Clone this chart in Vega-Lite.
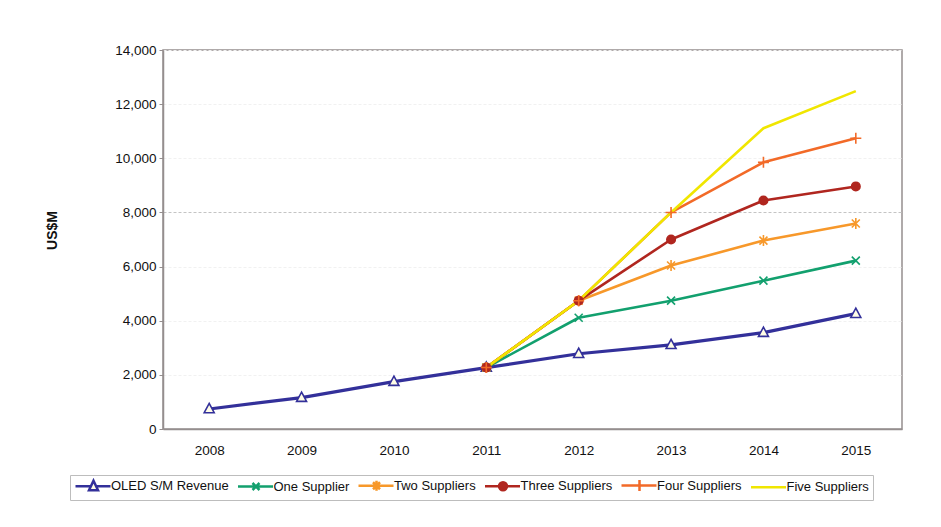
{
  "$schema": "https://vega.github.io/schema/vega-lite/v6.json",
  "width": 739,
  "height": 379,
  "autosize": "none",
  "padding": {"left": 163, "top": 50, "right": 39, "bottom": 98},
  "background": "white",
  "config": {
    "font": "Liberation Sans",
    "view": {"stroke": "#958e8e", "strokeWidth": 1.5},
    "axis": {
      "labelFont": "Liberation Sans",
      "labelFontSize": 13.5,
      "labelColor": "#111",
      "domainColor": "#958e8e",
      "domainWidth": 1.5,
      "tickColor": "#958e8e"
    }
  },
  "data": {
    "values": [
      {"year": "2008", "series": "OLED S/M Revenue", "value": 740},
      {"year": "2009", "series": "OLED S/M Revenue", "value": 1160},
      {"year": "2010", "series": "OLED S/M Revenue", "value": 1750},
      {"year": "2011", "series": "OLED S/M Revenue", "value": 2270},
      {"year": "2012", "series": "OLED S/M Revenue", "value": 2780},
      {"year": "2013", "series": "OLED S/M Revenue", "value": 3110},
      {"year": "2014", "series": "OLED S/M Revenue", "value": 3560},
      {"year": "2015", "series": "OLED S/M Revenue", "value": 4260},
      {"year": "2011", "series": "One Supplier", "value": 2270},
      {"year": "2012", "series": "One Supplier", "value": 4110},
      {"year": "2013", "series": "One Supplier", "value": 4740},
      {"year": "2014", "series": "One Supplier", "value": 5480},
      {"year": "2015", "series": "One Supplier", "value": 6220},
      {"year": "2011", "series": "Two Suppliers", "value": 2270},
      {"year": "2012", "series": "Two Suppliers", "value": 4740},
      {"year": "2013", "series": "Two Suppliers", "value": 6040},
      {"year": "2014", "series": "Two Suppliers", "value": 6960},
      {"year": "2015", "series": "Two Suppliers", "value": 7590},
      {"year": "2011", "series": "Three Suppliers", "value": 2270},
      {"year": "2012", "series": "Three Suppliers", "value": 4740},
      {"year": "2013", "series": "Three Suppliers", "value": 7000},
      {"year": "2014", "series": "Three Suppliers", "value": 8440},
      {"year": "2015", "series": "Three Suppliers", "value": 8960},
      {"year": "2011", "series": "Four Suppliers", "value": 2270},
      {"year": "2012", "series": "Four Suppliers", "value": 4740},
      {"year": "2013", "series": "Four Suppliers", "value": 8000},
      {"year": "2014", "series": "Four Suppliers", "value": 9850},
      {"year": "2015", "series": "Four Suppliers", "value": 10740},
      {"year": "2011", "series": "Five Suppliers", "value": 2270},
      {"year": "2012", "series": "Five Suppliers", "value": 4740},
      {"year": "2013", "series": "Five Suppliers", "value": 8000},
      {"year": "2014", "series": "Five Suppliers", "value": 11110},
      {"year": "2015", "series": "Five Suppliers", "value": 12480}
    ]
  },
  "encoding": {
    "x": {
      "field": "year",
      "type": "ordinal",
      "scale": {"type": "point", "padding": 0.5},
      "axis": {"title": null, "labelAngle": 0, "ticks": false, "labelPadding": 14, "grid": false}
    },
    "y": {
      "field": "value",
      "type": "quantitative",
      "scale": {"domain": [0, 14000], "nice": false},
      "axis": {
        "title": "US$M",
        "titleFont": "Liberation Sans",
        "titleFontSize": 14,
        "titleFontWeight": "bold",
        "titleColor": "#111",
        "titleAngle": -90,
        "titleAlign": "center",
        "titleBaseline": "middle",
        "titleX": -111,
        "titleY": 180,
        "values": [0, 2000, 4000, 6000, 8000, 10000, 12000, 14000],
        "format": ",d",
        "tickSize": 4,
        "labelPadding": 3,
        "grid": true,
        "gridDash": [3, 2],
        "gridColor": {"condition": {"test": "datum.value === 8000", "value": "#c4c4c4"}, "value": "#f1f1f1"}
      }
    }
  },
  "layer": [
    {
      "mark": {"type": "line", "strokeJoin": "round"},
      "encoding": {
        "color": {
          "field": "series",
          "type": "nominal",
          "sort": null,
          "scale": {
            "domain": ["OLED S/M Revenue", "One Supplier", "Two Suppliers", "Three Suppliers", "Four Suppliers", "Five Suppliers"],
            "range": ["#33309a", "#12a06e", "#f7982a", "#b0261f", "#f26a28", "#f0e600"]
          },
          "legend": {
            "title": null,
            "orient": "none",
            "legendX": -93,
            "legendY": 425,
            "direction": "horizontal",
            "columns": 6,
            "symbolSize": 100,
            "symbolStrokeWidth": 2.5,
            "labelFont": "Liberation Sans",
            "labelFontSize": 13,
            "labelColor": "#111",
            "labelOffset": 24,
            "columnPadding": 3.5,
            "padding": 4,
            "strokeColor": "#bdbdbd",
            "fillColor": "white",
            "encode": {
              "symbols": {
                "update": {
                  "shape": {"signal": "datum.value === 'OLED S/M Revenue' ? 'M-1,0H2.1M3.1,0H6.0M2.6,-1.1L3.5,0.8L1.7,0.8Z' : datum.value === 'One Supplier' ? 'M-1,0H6.0M1.9,-0.7L3.3,0.7M1.9,0.7L3.3,-0.7' : datum.value === 'Two Suppliers' ? 'M-1,0H6.0M1.9,-0.7L3.3,0.7M1.9,0.7L3.3,-0.7M2.6,-1V1' : datum.value === 'Three Suppliers' ? 'M-1,0H6.0M3.4,0A0.8,0.8,0,1,1,1.8,0A0.8,0.8,0,1,1,3.4,0Z' : datum.value === 'Four Suppliers' ? 'M-1,0H6.0M2.6,-1.1V1.1' : 'M-1,0H6.0'"},
                  "fill": {"signal": "datum.value === 'OLED S/M Revenue' ? '#fffde6' : datum.value === 'Three Suppliers' ? '#b0261f' : 'transparent'"},
                  "strokeWidth": {"value": 2.5}
                }
              }
            }
          }
        },
        "strokeWidth": {
          "condition": {"test": "datum.series === 'OLED S/M Revenue'", "value": 3.2},
          "value": 2.6
        }
      }
    },
    {
      "transform": [{"filter": "datum.series !== 'Five Suppliers'"}],
      "mark": {"type": "point", "filled": false, "strokeWidth": 1.6, "opacity": 1},
      "encoding": {
        "shape": {
          "field": "series",
          "type": "nominal",
          "legend": null,
          "scale": {
            "domain": ["OLED S/M Revenue", "One Supplier", "Two Suppliers", "Three Suppliers", "Four Suppliers"],
            "range": [
              "M0,-1.1L1,0.75L-1,0.75Z",
              "M-0.8,-0.8L0.8,0.8M-0.8,0.8L0.8,-0.8",
              "M-0.8,-0.8L0.8,0.8M-0.8,0.8L0.8,-0.8M0,-1.1V1.1",
              "M0.85,0A0.85,0.85,0,1,1,-0.85,0A0.85,0.85,0,1,1,0.85,0Z",
              "M-1.1,0H1.1M0,-1.1V1.1"
            ]
          }
        },
        "stroke": {
          "field": "series",
          "type": "nominal",
          "legend": null,
          "scale": {
            "domain": ["OLED S/M Revenue", "One Supplier", "Two Suppliers", "Three Suppliers", "Four Suppliers"],
            "range": ["#33309a", "#12a06e", "#f7982a", "#b0261f", "#f26a28"]
          }
        },
        "fill": {
          "field": "series",
          "type": "nominal",
          "legend": null,
          "scale": {
            "domain": ["OLED S/M Revenue", "One Supplier", "Two Suppliers", "Three Suppliers", "Four Suppliers"],
            "range": ["#fffde6", "transparent", "transparent", "#b0261f", "transparent"]
          }
        },
        "size": {"value": 100}
      }
    }
  ]
}
